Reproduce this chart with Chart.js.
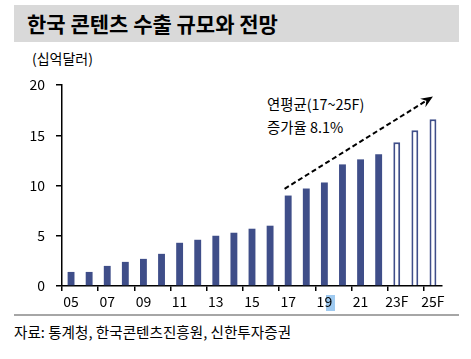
<!DOCTYPE html>
<html><head><meta charset="utf-8">
<script src="https://cdn.jsdelivr.net/npm/chart.js@4/dist/chart.umd.min.js"></script>
<style>
html,body{margin:0;padding:0;background:#fff;}
body{width:471px;height:359px;position:relative;overflow:hidden;font-family:"Noto Sans CJK KR","Noto Sans",sans-serif;}
#band{position:absolute;left:14px;top:5px;width:445px;height:37px;background:#d9d9d9;}
#title{position:absolute;left:27px;top:5px;height:37px;line-height:37px;font-size:21px;font-weight:bold;color:#000;white-space:nowrap;}
#unit{position:absolute;left:32px;top:48px;font-size:14px;line-height:20px;color:#000;}
#rule{position:absolute;left:14px;top:314px;width:445px;height:2px;background:#a6a6a6;}
#src{position:absolute;left:14px;top:321px;font-size:14.6px;line-height:21px;color:#000;white-space:nowrap;}
#note{position:absolute;left:267px;top:92px;font-size:14.4px;line-height:23px;color:#000;white-space:nowrap;}
#hl{position:absolute;left:326px;top:295px;width:9px;height:16px;background:#9fcaf0;}
canvas{position:absolute;left:0;top:0;}
</style></head>
<body>
<div id="band"></div>
<div id="title">한국 콘텐츠 수출 규모와 전망</div>
<div id="unit">(십억달러)</div>
<div id="note">연평균(17~25F)<br>증가율 8.1%</div>
<div id="rule"></div>
<div id="src">자료: 통계청, 한국콘텐츠진흥원, 신한투자증권</div>
<div id="hl"></div>
<canvas id="c" width="471" height="359"></canvas>
<script>
const categories = ['05','06','07','08','09','10','11','12','13','14','15','16','17','18','19','20','21','22','23F','24F','25F'];
const exportValues = [1.4,1.4,2.0,2.4,2.7,3.2,4.3,4.6,5.0,5.3,5.7,6.0,9.0,9.7,10.3,12.1,12.6,13.1,14.3,15.5,16.6];
const isForecast = categories.map(c => c.endsWith('F'));
const yTicks = [0,5,10,15,20];
const arrowFrom = {x: 11.8, y: 9.67};
const arrowTo = {x: 20.0, y: 18.85};

const BAR = '#3f4e89';

const arrowPlugin = {
  id: 'arrow',
  afterDatasetsDraw(chart) {
    const {ctx, scales:{x, y}} = chart;
    const x1 = x.getPixelForValue(arrowFrom.x), y1 = y.getPixelForValue(arrowFrom.y);
    const x2 = x.getPixelForValue(arrowTo.x), y2 = y.getPixelForValue(arrowTo.y);
    const ang = Math.atan2(y2 - y1, x2 - x1);
    const hl = 12, hw = 5;
    ctx.save();
    ctx.strokeStyle = '#000'; ctx.lineWidth = 2; ctx.setLineDash([5,3]);
    ctx.beginPath(); ctx.moveTo(x1, y1);
    ctx.lineTo(x2 - Math.cos(ang)*hl*0.8, y2 - Math.sin(ang)*hl*0.8); ctx.stroke();
    ctx.setLineDash([]);
    ctx.fillStyle = '#000';
    ctx.beginPath();
    ctx.moveTo(x2, y2);
    ctx.lineTo(x2 - Math.cos(ang)*hl - Math.sin(ang)*hw, y2 - Math.sin(ang)*hl + Math.cos(ang)*hw);
    ctx.lineTo(x2 - Math.cos(ang)*hl*0.65, y2 - Math.sin(ang)*hl*0.65);
    ctx.lineTo(x2 - Math.cos(ang)*hl + Math.sin(ang)*hw, y2 - Math.sin(ang)*hl - Math.cos(ang)*hw);
    ctx.closePath(); ctx.fill();
    ctx.restore();
  }
};

const FONT = {family: '"Noto Sans CJK KR","Noto Sans",sans-serif', size: 14};

new Chart(document.getElementById('c'), {
  type: 'bar',
  data: {
    labels: categories,
    datasets: [{
      data: exportValues,
      backgroundColor: isForecast.map(f => f ? '#ffffff' : BAR),
      borderColor: BAR,
      borderWidth: isForecast.map(f => f ? 2 : 0),
      barPercentage: 0.38,
      categoryPercentage: 1.0
    }]
  },
  options: {
    responsive: false,
    animation: false,
    events: [],
    layout: {padding: {top: 85, right: 29, bottom: 43, left: 0}},
    plugins: {legend: {display: false}, tooltip: {enabled: false}, title: {display: false}},
    scales: {
      x: {
        offset: true,
        grid: {
          offset: true, drawOnChartArea: false, drawTicks: true, tickLength: 5,
          color: (ctx) => (ctx.index % 2 === 0 && ctx.index < categories.length) ? '#000' : 'rgba(0,0,0,0)',
          lineWidth: 1.5
        },
        border: {display: true, color: '#000', width: 1.5},
        ticks: {
          autoSkip: false, maxRotation: 0, padding: 2, color: '#000', font: FONT,
          callback: (v, i) => i % 2 === 0 ? categories[i] : ''
        },
        afterFit: (s) => { s.height = 30; }
      },
      y: {
        min: 0, max: 20,
        afterBuildTicks: (s) => { s.ticks = yTicks.map(v => ({value: v})); },
        grid: {drawOnChartArea: false, drawTicks: true, tickLength: 6, color: '#000', lineWidth: 1.5},
        border: {display: true, color: '#000', width: 1.5},
        ticks: {padding: 11, color: '#000', font: FONT},
        afterFit: (s) => { s.width = 62; }
      }
    }
  },
  plugins: [arrowPlugin]
});
</script>
</body></html>
